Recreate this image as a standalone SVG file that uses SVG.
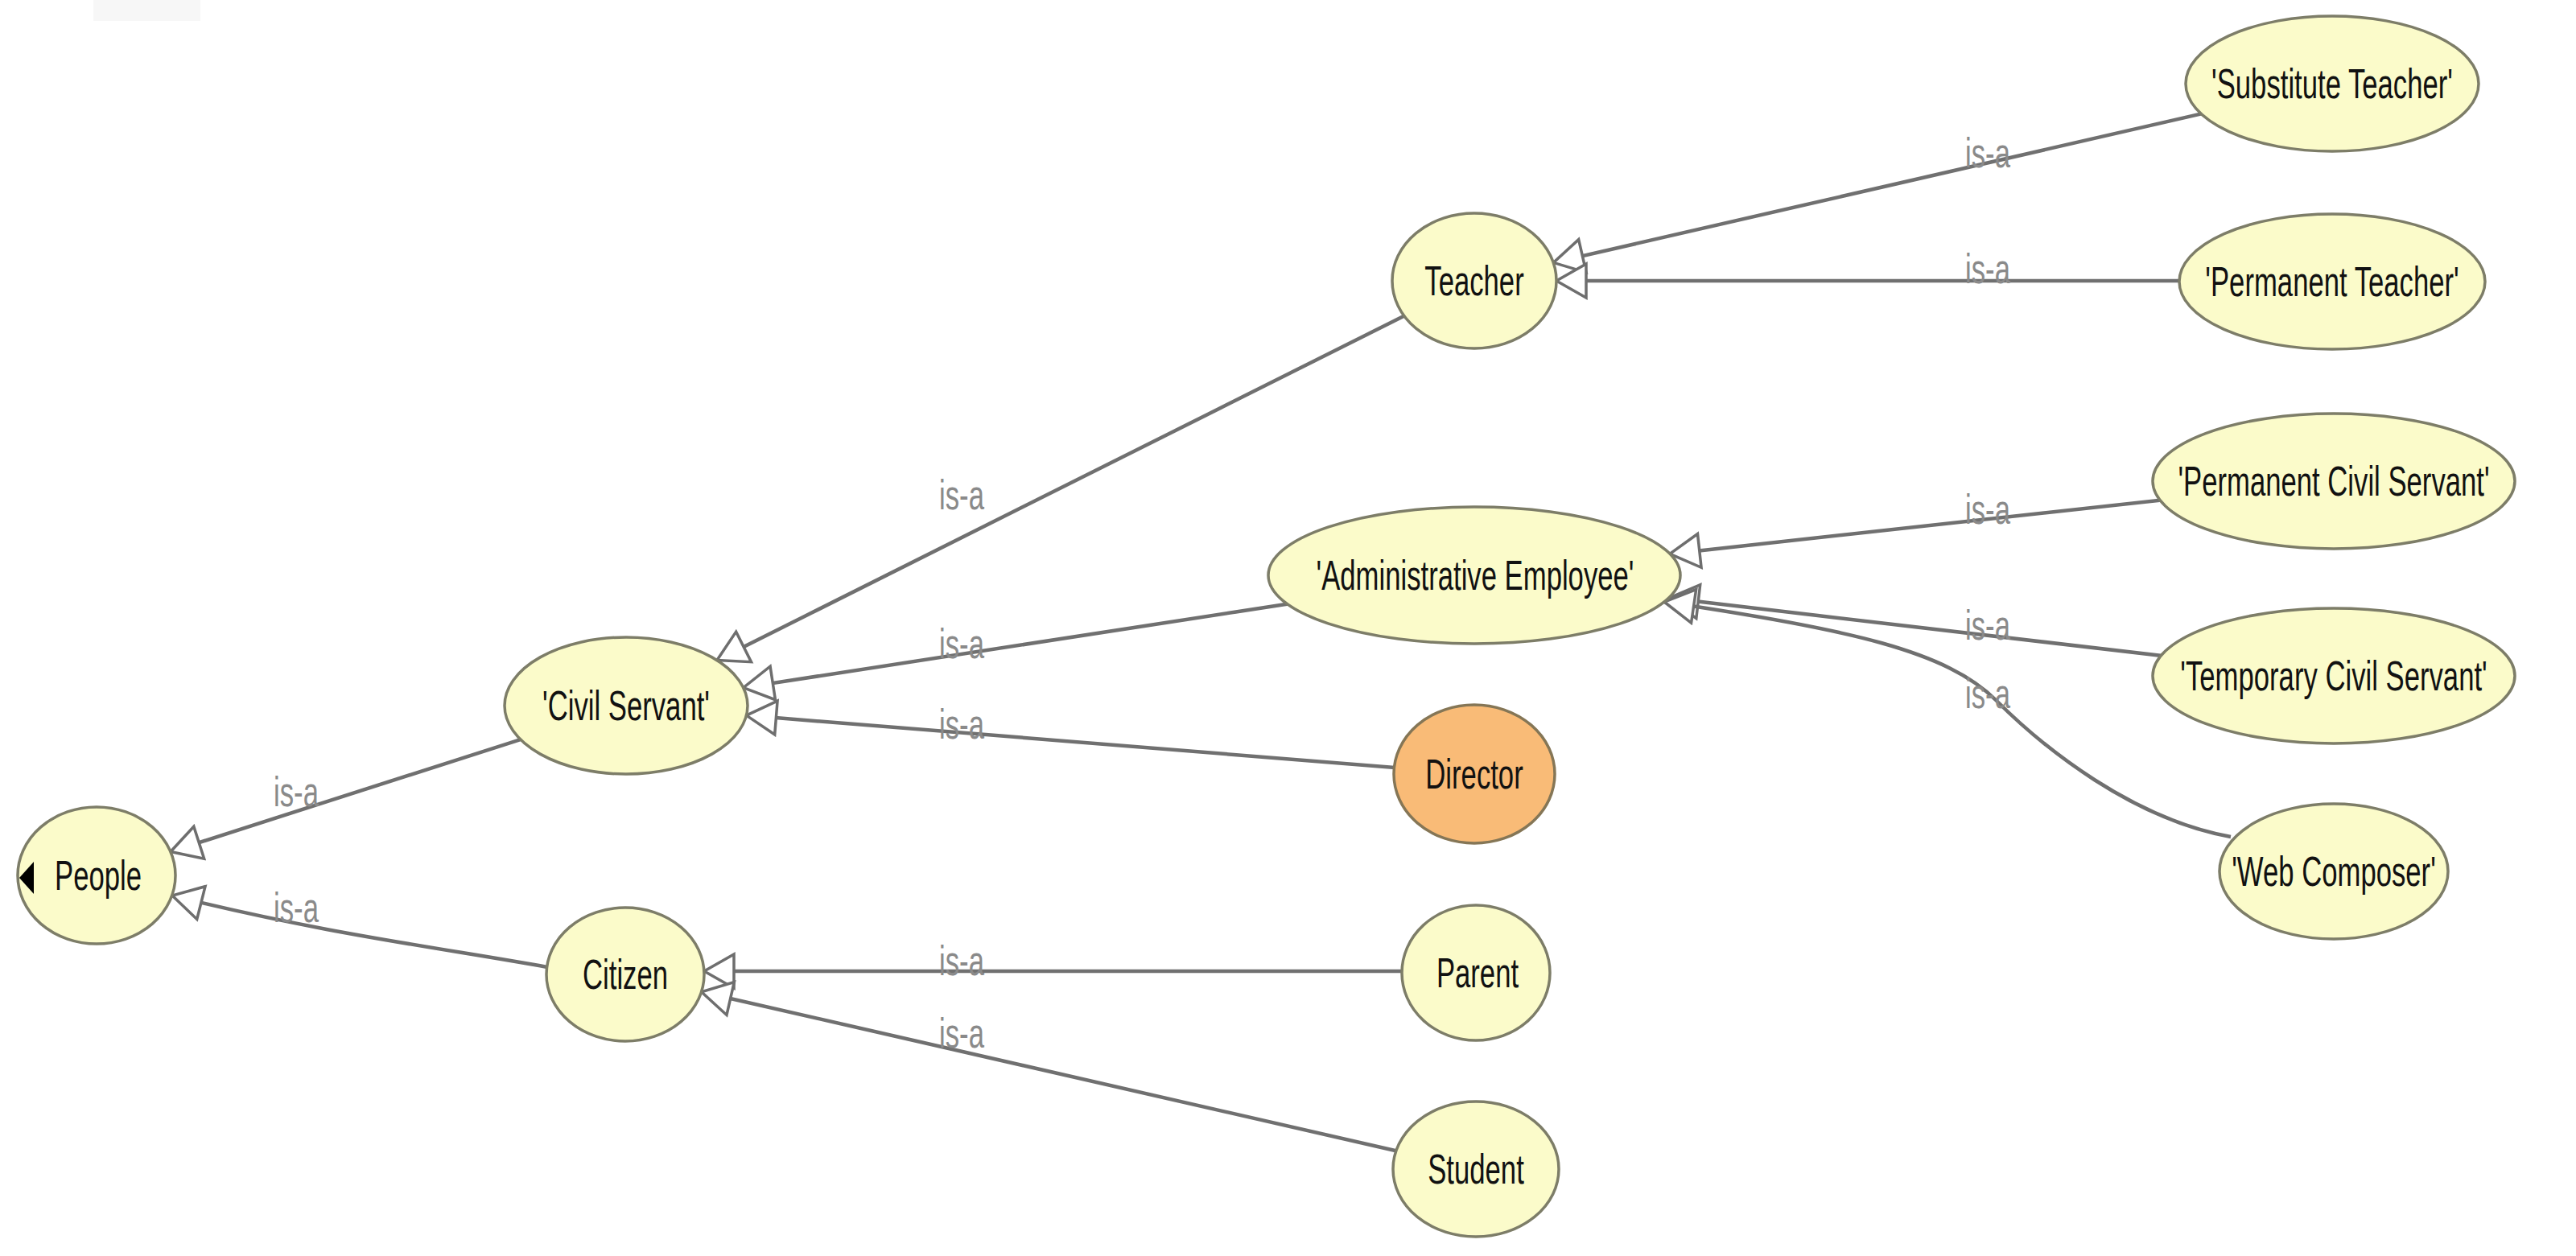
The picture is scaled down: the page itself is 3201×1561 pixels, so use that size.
<svg xmlns="http://www.w3.org/2000/svg" width="3201" height="1561" viewBox="0 0 3201 1561">
<style>
.node ellipse{fill:#fbfbca;stroke:#7d7d68;stroke-width:3.5}
.node.hl ellipse{fill:#f9bb77;stroke:#857656}
.node text{font-family:"Liberation Sans",Arial,sans-serif;font-size:51px;fill:#111;text-anchor:middle}
.edge{fill:none;stroke:#707070;stroke-width:4.5;marker-end:url(#arr)}
.lbl{font-family:"Liberation Sans",Arial,sans-serif;font-size:51px;fill:#8a8a8a;text-anchor:middle}
</style>
<defs>
<marker id="arr" viewBox="-3 -3 44 48" refX="37" refY="21" markerWidth="44" markerHeight="48" orient="auto" markerUnits="userSpaceOnUse">
<path d="M37,21 L0,0 L0,42 Z" fill="#fff" stroke="#6e6e6e" stroke-width="3.5" stroke-linejoin="miter"/>
</marker>
</defs>
<rect width="3201" height="1561" fill="#fff"/>
<rect x="116" y="0" width="133" height="26" fill="#f7f7f7"/>
<g id="connectors">
<path class="edge" d="M778,877 L212,1058.5"/>
<path class="edge" d="M680,1202 C560,1180 400,1160 214,1113"/>
<path class="edge" d="M1832,349 L891,820.5"/>
<path class="edge" d="M1832,715 L923.7,854.6"/>
<path class="edge" d="M1832,962 L927.5,889.1"/>
<path class="edge" d="M1834,1207 L875,1207"/>
<path class="edge" d="M1834,1453 L871.6,1232.7"/>
<path class="edge" d="M2898,104 L1930.3,326.4"/>
<path class="edge" d="M2898,349 L1934,349"/>
<path class="edge" d="M2900,598 L2075,688.4"/>
<path class="edge" d="M2900,840 L2073.5,743.3"/>
<path class="edge" d="M2772,1040 C2650,1018 2540,930 2480,870 C2420,810 2300,782 2068,748"/>
<g class="lbl">
<text transform="translate(368,1002) scale(0.68,1)">is-a</text>
<text transform="translate(368,1146) scale(0.68,1)">is-a</text>
<text transform="translate(1195,633) scale(0.68,1)">is-a</text>
<text transform="translate(1195,818) scale(0.68,1)">is-a</text>
<text transform="translate(1195,918) scale(0.68,1)">is-a</text>
<text transform="translate(1195,1212) scale(0.68,1)">is-a</text>
<text transform="translate(1195,1302) scale(0.68,1)">is-a</text>
<text transform="translate(2470,208) scale(0.68,1)">is-a</text>
<text transform="translate(2470,352) scale(0.68,1)">is-a</text>
<text transform="translate(2470,651) scale(0.68,1)">is-a</text>
<text transform="translate(2470,795) scale(0.68,1)">is-a</text>
<text transform="translate(2470,880) scale(0.68,1)">is-a</text>
</g>
</g>
<g id="people" class="node"><ellipse cx="120" cy="1088" rx="98" ry="85"/><polygon points="24,1091 42,1071 42,1111" fill="#000"/><text transform="translate(122,1106) scale(0.68,1)">People</text></g>
<g id="civil-servant" class="node"><ellipse cx="778" cy="877" rx="151" ry="85"/><text transform="translate(778,895) scale(0.68,1)">'Civil Servant'</text></g>
<g id="citizen" class="node"><ellipse cx="777" cy="1211" rx="98" ry="83"/><text transform="translate(777,1229) scale(0.68,1)">Citizen</text></g>
<g id="teacher" class="node"><ellipse cx="1832" cy="349" rx="102" ry="84"/><text transform="translate(1832,367) scale(0.68,1)">Teacher</text></g>
<g id="administrative-employee" class="node"><ellipse cx="1832" cy="715" rx="256" ry="85"/><text transform="translate(1833,733) scale(0.68,1)">'Administrative Employee'</text></g>
<g id="director" class="node hl"><ellipse cx="1832" cy="962" rx="100" ry="86"/><text transform="translate(1832,980) scale(0.68,1)">Director</text></g>
<g id="parent" class="node"><ellipse cx="1834" cy="1209" rx="92" ry="84"/><text transform="translate(1836,1227) scale(0.68,1)">Parent</text></g>
<g id="student" class="node"><ellipse cx="1834" cy="1453" rx="103" ry="84"/><text transform="translate(1834,1471) scale(0.68,1)">Student</text></g>
<g id="substitute-teacher" class="node"><ellipse cx="2898" cy="104" rx="182" ry="84"/><text transform="translate(2898,122) scale(0.68,1)">'Substitute Teacher'</text></g>
<g id="permanent-teacher" class="node"><ellipse cx="2898" cy="350" rx="190" ry="84"/><text transform="translate(2898,368) scale(0.68,1)">'Permanent Teacher'</text></g>
<g id="permanent-civil-servant" class="node"><ellipse cx="2900" cy="598" rx="225" ry="84"/><text transform="translate(2900,616) scale(0.68,1)">'Permanent Civil Servant'</text></g>
<g id="temporary-civil-servant" class="node"><ellipse cx="2900" cy="840" rx="225" ry="84"/><text transform="translate(2900,858) scale(0.68,1)">'Temporary Civil Servant'</text></g>
<g id="web-composer" class="node"><ellipse cx="2900" cy="1083" rx="142" ry="84"/><text transform="translate(2900,1101) scale(0.68,1)">'Web Composer'</text></g>
</svg>
